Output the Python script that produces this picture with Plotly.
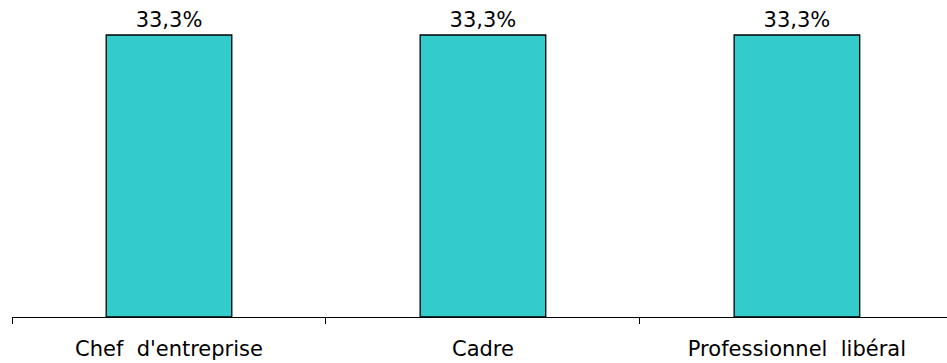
import plotly.graph_objects as go

categories = ["Chef\u00a0\u00a0d'entreprise", "Cadre", "Professionnel\u00a0\u00a0libéral"]
values = [33.3, 33.3, 33.3]
labels = ["33,3%", "33,3%", "33,3%"]

fig = go.Figure(
    go.Bar(
        x=categories,
        y=values,
        text=labels,
        textposition="outside",
        cliponaxis=False,
        width=0.4,
        marker=dict(color="#33CCCC", line=dict(color="#000000", width=1.3)),
        textfont=dict(family="DejaVu Sans", size=21, color="#000000"),
    )
)

fig.update_layout(
    width=947,
    height=363,
    margin=dict(l=12, r=0, t=0, b=46),
    paper_bgcolor="white",
    plot_bgcolor="white",
    showlegend=False,
    font=dict(family="DejaVu Sans", size=21, color="#000000"),
)
fig.update_xaxes(
    range=[-0.5, 2.478],
    showline=True,
    linecolor="#000000",
    linewidth=1,
    ticks="outside",
    tickson="boundaries",
    ticklen=6,
    tickcolor="#000000",
    tickwidth=1,
    showgrid=False,
    ticklabelstandoff=13,
    tickfont=dict(family="DejaVu Sans", size=21, color="#000000"),
)
fig.update_yaxes(range=[0, 37.43], visible=False, showgrid=False)

fig.write_html("out.html")
